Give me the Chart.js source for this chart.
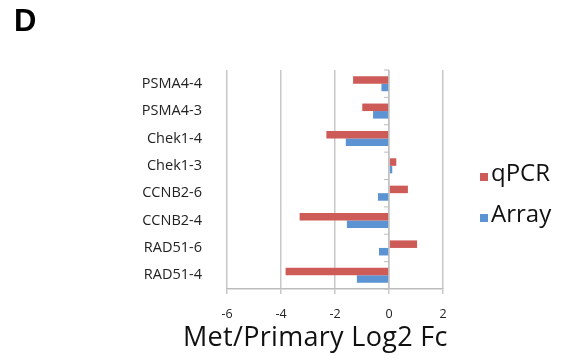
<!DOCTYPE html>
<html>
<head>
<meta charset="utf-8">
<script src="https://cdn.jsdelivr.net/npm/chart.js@4"></script>
<style>
  body { margin: 0; background: #fff; }
  #wrap { position: relative; width: 566px; height: 360px; }
  #panel { position: absolute; left: 14px; top: 3px; font: bold 31px "Liberation Sans", Arial, sans-serif; color: #000; }
  .leg { position: absolute; left: 480px; font: 24px "Open Sans", sans-serif; color: #111; }
  .leg span { display: inline-block; width: 8px; height: 8px; margin-right: 3px; }
  #tituloX { position: absolute; left: 183px; top: 321px; font: 27px/30px "Open Sans", sans-serif; letter-spacing: 0.3px; color: #111; white-space: nowrap; }
</style>
</head>
<body>
<div id="wrap">
  <canvas id="grafico" width="566" height="360"></canvas>
  <div id="panel">D</div>
  <div class="leg" style="top:155px"><span style="background:#cd5b57"></span>qPCR</div>
  <div class="leg" style="top:196px"><span style="background:#5b93d3"></span>Array</div>
  <div id="tituloX">Met/Primary Log2 Fc</div>
</div>
<script>
// datos
const muestras = ["PSMA4-4", "PSMA4-3", "Chek1-4", "Chek1-3", "CCNB2-6", "CCNB2-4", "RAD51-6", "RAD51-4"];
const qpcr = [-1.33, -0.99, -2.32, 0.27, 0.70, -3.31, 1.04, -3.83];
const arrayVals = [-0.28, -0.59, -1.60, 0.12, -0.41, -1.56, -0.37, -1.19];
const ticksX = [-6, -4, -2, 0, 2];

// marcas pequeñas sobre el eje en 0 entre categorias
const marcasCero = {
  id: "marcasCero",
  afterDatasetsDraw(chart) {
    const { ctx, scales: { x, y } } = chart;
    const x0 = x.getPixelForValue(0);
    ctx.save();
    ctx.strokeStyle = "#bdbdbd";
    ctx.lineWidth = 1;
    ctx.beginPath();
    ctx.moveTo(x0, y.top);
    ctx.lineTo(x0, y.bottom);
    for (let i = 0; i <= muestras.length; i++) {
      const py = y.top + (y.bottom - y.top) * i / muestras.length;
      ctx.moveTo(x0 - 5, py);
      ctx.lineTo(x0, py);
    }
    ctx.stroke();
    ctx.restore();
  }
};

new Chart(document.getElementById("grafico"), {
  type: "bar",
  data: {
    labels: muestras,
    datasets: [
      { label: "qPCR", data: qpcr, backgroundColor: "#cd5b57" },
      { label: "Array", data: arrayVals, backgroundColor: "#5b93d3" }
    ]
  },
  options: {
    indexAxis: "y",
    responsive: false,
    animation: false,
    categoryPercentage: 0.55,
    barPercentage: 1.0,
    layout: { padding: { top: 70, right: 123, left: 0, bottom: 0 } },
    plugins: { legend: { display: false }, tooltip: { enabled: false } },
    scales: {
      x: {
        min: -6, max: 2,
        afterBuildTicks: s => { s.ticks = ticksX.map(v => ({ value: v })); },
        afterFit: s => { s.height = 71; },
        grid: { color: "#c8c8c8", lineWidth: 1.5, tickLength: 5, drawTicks: true },
        border: { color: "#bdbdbd", width: 1.5 },
        ticks: { padding: 13, font: { family: "Open Sans", size: 12.5 }, color: "#222" }
      },
      y: {
        afterFit: s => { s.width = 227; },
        grid: { display: false },
        border: { display: false },
        ticks: { padding: 17, font: { family: "Open Sans", size: 14.5 }, color: "#222" }
      }
    }
  },
  plugins: [marcasCero]
});
</script>
</body>
</html>
